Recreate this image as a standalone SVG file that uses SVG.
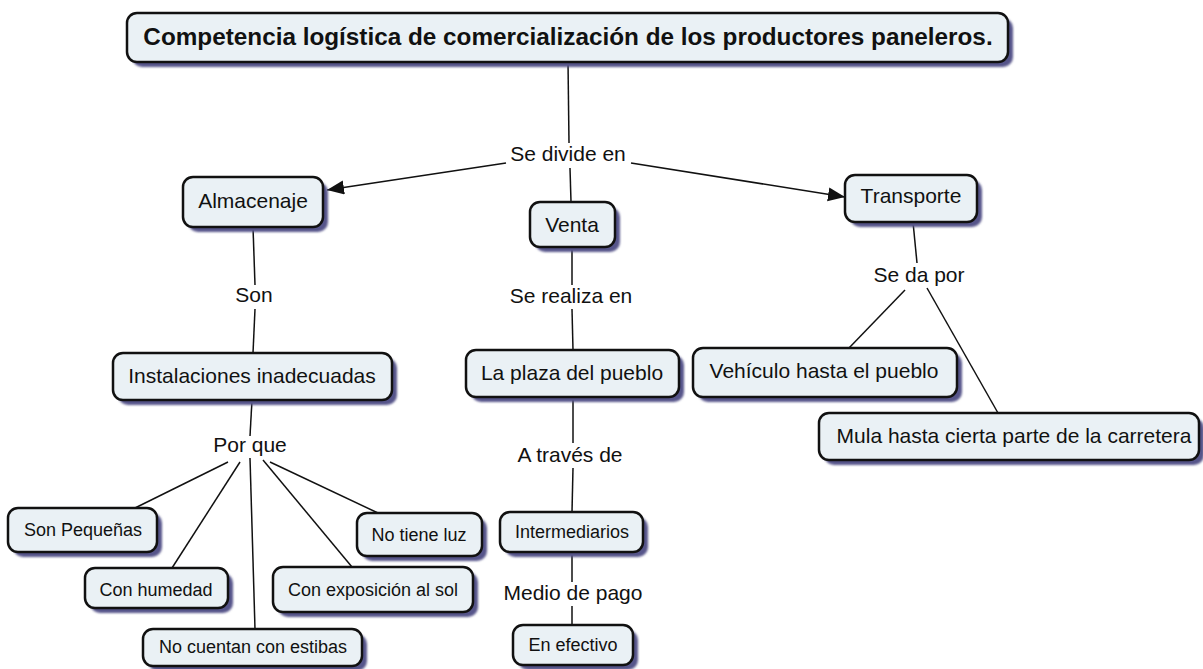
<svg xmlns="http://www.w3.org/2000/svg" width="1203" height="669" viewBox="0 0 1203 669">
<style>
.box{fill:#eaf1f5;stroke:#111;stroke-width:2.5}
.sh{fill:#56558a;filter:url(#blur)}
.t{font-family:"Liberation Sans",Arial,sans-serif;font-size:21px;fill:#111;text-anchor:middle}
.s{font-family:"Liberation Sans",Arial,sans-serif;font-size:18px;fill:#111;text-anchor:middle}
.title{font-family:"Liberation Sans",Arial,sans-serif;font-size:24.3px;font-weight:bold;fill:#111;text-anchor:middle}
.lbl{font-family:"Liberation Sans",Arial,sans-serif;font-size:21px;fill:#111;text-anchor:middle}
.c line{stroke:#111;stroke-width:1.5}
</style>
<defs>
<filter id="blur" x="-10%" y="-20%" width="120%" height="140%"><feGaussianBlur stdDeviation="1.2"/></filter>
<marker id="arr" markerUnits="userSpaceOnUse" markerWidth="18" markerHeight="16" refX="17" refY="7" orient="auto"><path d="M0,0 L17,7 L0,14 z" fill="#111"/></marker>
</defs>
<rect width="1203" height="669" fill="#fff"/>
<g id="connectors" class="c">
<line x1="568" y1="62" x2="569" y2="143"/>
<line x1="570" y1="168" x2="571" y2="202"/>
<line x1="506" y1="163" x2="327" y2="190" marker-end="url(#arr)"/>
<line x1="631" y1="163" x2="845" y2="197" marker-end="url(#arr)"/>
<line x1="253" y1="227" x2="255" y2="285"/>
<line x1="255" y1="309" x2="253" y2="353"/>
<line x1="252" y1="400" x2="250" y2="436"/>
<line x1="228" y1="462" x2="135" y2="508"/>
<line x1="240" y1="462" x2="172" y2="568"/>
<line x1="250" y1="458" x2="255" y2="629"/>
<line x1="263" y1="460" x2="352" y2="567"/>
<line x1="270" y1="462" x2="378" y2="513"/>
<line x1="572" y1="247" x2="572" y2="285"/>
<line x1="572" y1="309" x2="573" y2="350"/>
<line x1="573" y1="397" x2="573" y2="443"/>
<line x1="573" y1="468" x2="572" y2="512"/>
<line x1="572" y1="552" x2="572" y2="582"/>
<line x1="572" y1="606" x2="572" y2="625"/>
<line x1="913" y1="222" x2="917" y2="263"/>
<line x1="905" y1="290" x2="849" y2="348"/>
<line x1="927" y1="288" x2="998" y2="413"/>
</g>
<g id="labels">
<text class="lbl" x="568" y="161">Se divide en</text>
<text class="lbl" x="254" y="302">Son</text>
<text class="lbl" x="250" y="452">Por que</text>
<text class="lbl" x="571" y="303">Se realiza en</text>
<text class="lbl" x="570" y="462">A través de</text>
<text class="lbl" x="573" y="600">Medio de pago</text>
<text class="lbl" x="919" y="282">Se da por</text>
</g>
<g id="n-title"><rect class="sh" x="132" y="18" width="881" height="49" rx="10"/><rect class="box" x="127" y="13" width="881" height="49" rx="10"/><text class="title" x="568" y="45">Competencia logística de comercialización de los productores paneleros.</text></g>
<g id="n-almacenaje"><rect class="sh" x="188" y="182" width="140" height="50" rx="10"/><rect class="box" x="183" y="177" width="140" height="50" rx="10"/><text class="t" x="253" y="208">Almacenaje</text></g>
<g id="n-venta"><rect class="sh" x="535" y="207" width="85" height="45" rx="10"/><rect class="box" x="530" y="202" width="85" height="45" rx="10"/><text class="t" x="572" y="232">Venta</text></g>
<g id="n-transporte"><rect class="sh" x="850" y="180" width="132" height="47" rx="10"/><rect class="box" x="845" y="175" width="132" height="47" rx="10"/><text class="t" x="911" y="203">Transporte</text></g>
<g id="n-instalaciones"><rect class="sh" x="118" y="358" width="279" height="47" rx="10"/><rect class="box" x="113" y="353" width="279" height="47" rx="10"/><text class="t" x="252" y="383">Instalaciones inadecuadas</text></g>
<g id="n-plaza"><rect class="sh" x="471" y="355" width="213" height="47" rx="10"/><rect class="box" x="466" y="350" width="213" height="47" rx="10"/><text class="t" x="572" y="380">La plaza del pueblo</text></g>
<g id="n-vehiculo"><rect class="sh" x="698" y="353" width="264" height="49" rx="10"/><rect class="box" x="693" y="348" width="264" height="49" rx="10"/><text class="t" x="824" y="378">Vehículo hasta el pueblo</text></g>
<g id="n-mula"><rect class="sh" x="824" y="418" width="380" height="47" rx="10"/><rect class="box" x="819" y="413" width="380" height="47" rx="10"/><text class="t" x="1014" y="443">Mula hasta cierta parte de la carretera</text></g>
<g id="n-pequenas"><rect class="sh" x="13" y="513" width="149" height="44" rx="10"/><rect class="box" x="8" y="508" width="149" height="44" rx="10"/><text class="s" x="83" y="536">Son Pequeñas</text></g>
<g id="n-humedad"><rect class="sh" x="90" y="573" width="143" height="40" rx="10"/><rect class="box" x="85" y="568" width="143" height="40" rx="10"/><text class="s" x="156" y="596">Con humedad</text></g>
<g id="n-estibas"><rect class="sh" x="148" y="634" width="219" height="37" rx="10"/><rect class="box" x="143" y="629" width="219" height="37" rx="10"/><text class="s" x="253" y="653">No cuentan con estibas</text></g>
<g id="n-sol"><rect class="sh" x="278" y="572" width="200" height="45" rx="10"/><rect class="box" x="273" y="567" width="200" height="45" rx="10"/><text class="s" x="373" y="596">Con exposición al sol</text></g>
<g id="n-luz"><rect class="sh" x="362" y="518" width="125" height="43" rx="10"/><rect class="box" x="357" y="513" width="125" height="43" rx="10"/><text class="s" x="419" y="541">No tiene luz</text></g>
<g id="n-intermediarios"><rect class="sh" x="505" y="517" width="143" height="40" rx="10"/><rect class="box" x="500" y="512" width="143" height="40" rx="10"/><text class="s" x="572" y="538">Intermediarios</text></g>
<g id="n-efectivo"><rect class="sh" x="518" y="630" width="120" height="40" rx="10"/><rect class="box" x="513" y="625" width="120" height="40" rx="10"/><text class="s" x="573" y="651">En efectivo</text></g>
</svg>
